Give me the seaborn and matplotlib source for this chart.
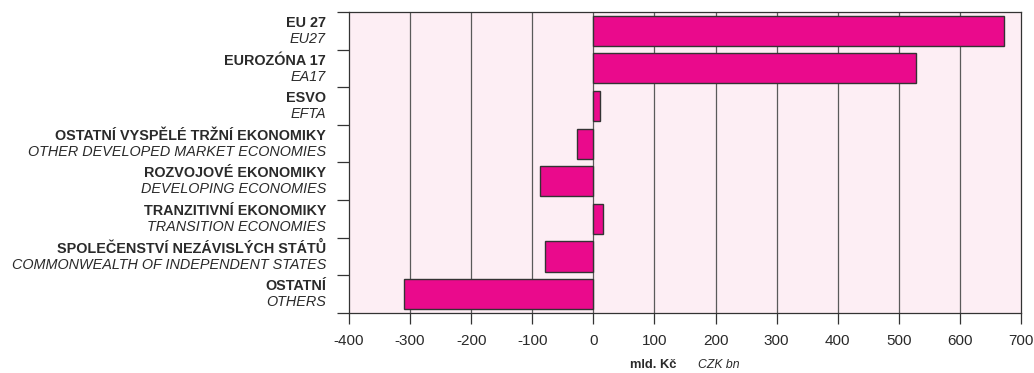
import numpy as np
import pandas as pd
import matplotlib
matplotlib.use("Agg")
import matplotlib.pyplot as plt
import matplotlib.transforms as mtransforms
import seaborn as sns

# data
labels_cz = ["EU 27", "EUROZÓNA 17", "ESVO", "OSTATNÍ VYSPĚLÉ TRŽNÍ EKONOMIKY",
             "ROZVOJOVÉ EKONOMIKY", "TRANZITIVNÍ EKONOMIKY",
             "SPOLEČENSTVÍ NEZÁVISLÝCH STÁTŮ", "OSTATNÍ"]
labels_en = ["EU27", "EA17", "EFTA", "OTHER DEVELOPED MARKET ECONOMIES",
             "DEVELOPING ECONOMIES", "TRANSITION ECONOMIES",
             "COMMONWEALTH OF INDEPENDENT STATES", "OTHERS"]
values = [672, 528, 11, -26, -88, 15, -79, -310]
x_ticks = [-400, -300, -200, -100, 0, 100, 200, 300, 400, 500, 600, 700]

df = pd.DataFrame({"group": labels_cz, "value": values})

sns.set_style("white")
plt.rcParams["font.family"] = ["Liberation Sans", "DejaVu Sans"]

text_col = "#2a2a2a"
fig, ax = plt.subplots(figsize=(10.34, 3.73), dpi=100)
fig.subplots_adjust(left=0.3375, right=0.9874, top=0.968, bottom=0.161)
ax.set_facecolor("#fdeef4")

for xv in x_ticks[1:-1]:
    ax.axvline(xv, color="#5a5a5a", lw=0.9, zorder=0)

sns.barplot(data=df, x="value", y="group", orient="h", color="#ea0a8c",
            saturation=1, width=0.8, edgecolor="#333333", linewidth=1.0,
            ax=ax, zorder=3)

ax.set_xlim(-400, 700)
ax.set_ylim(len(values) - 0.5, -0.5)
ax.set_xticks(x_ticks)
ax.set_xticklabels([str(v) for v in x_ticks], fontsize=11, color=text_col)
ax.tick_params(axis="x", direction="out", length=8, width=0.9,
               color="#333333", pad=7, bottom=True)

ax.set_yticks(np.arange(-0.5, len(values), 1.0))
ax.set_yticklabels([])
ax.tick_params(axis="y", direction="out", length=9, width=0.9,
               color="#333333", left=True)
ax.set_xlabel("")
ax.set_ylabel("")

for s in ["left", "right", "top", "bottom"]:
    ax.spines[s].set_visible(True)
    ax.spines[s].set_color("#333333")
    ax.spines[s].set_linewidth(0.9)

trans = mtransforms.blended_transform_factory(ax.transAxes, ax.transData)
for i, (cz, en) in enumerate(zip(labels_cz, labels_en)):
    ax.annotate(cz, xy=(0, i), xycoords=trans, xytext=(-16.5, 5.6),
                textcoords="offset points", ha="right", va="center",
                fontsize=10.4, fontweight="bold", color=text_col)
    ax.annotate(en, xy=(0, i), xycoords=trans, xytext=(-16.5, -5.9),
                textcoords="offset points", ha="right", va="center",
                fontsize=10.4, fontstyle="italic", color=text_col)

fig.text(676 / 1034, 1 - 365 / 373, "mld. Kč", ha="right", va="center",
         fontsize=9.3, fontweight="bold", color=text_col)
fig.text(698 / 1034, 1 - 365 / 373, "CZK bn", ha="left", va="center",
         fontsize=8.8, fontstyle="italic", color=text_col)

fig.savefig("out.png", dpi=100, facecolor="white")
